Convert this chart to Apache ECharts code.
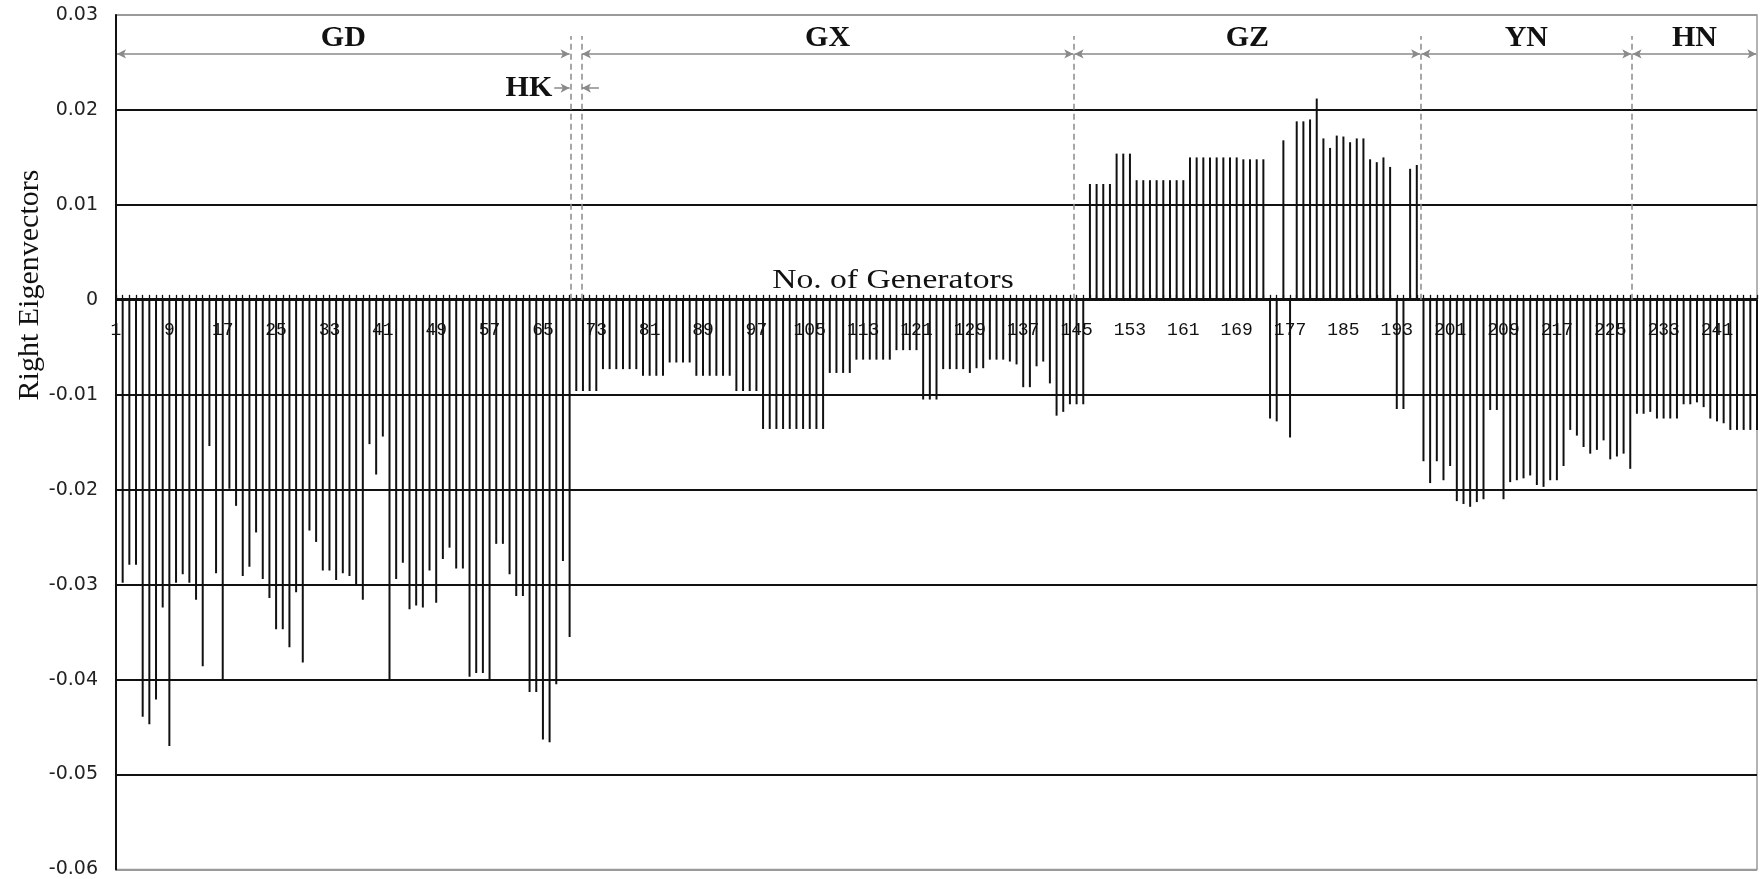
<!DOCTYPE html>
<html><head><meta charset="utf-8">
<script src="https://cdn.jsdelivr.net/npm/echarts@6/dist/echarts.min.js"></script>
<style>html,body{margin:0;padding:0;background:#fff}#c{width:1762px;height:879px}</style>
</head><body><div id="c"></div>
<script>
// Right eigenvector entries per region (generators numbered consecutively)
const gdValues = [-0.0297,-0.0298,-0.0279,-0.0279,-0.0439,-0.0447,-0.0421,-0.0324,-0.0470,-0.0298,
  -0.0289,-0.0298,-0.0316,-0.0386,-0.0154,-0.0288,-0.0400,-0.0199,-0.0217,-0.0291,
  -0.0281,-0.0245,-0.0294,-0.0314,-0.0347,-0.0347,-0.0366,-0.0308,-0.0382,-0.0243,
  -0.0255,-0.0285,-0.0285,-0.0295,-0.0288,-0.0291,-0.0300,-0.0316,-0.0152,-0.0184,
  -0.0144,-0.0400,-0.0294,-0.0277,-0.0326,-0.0322,-0.0324,-0.0285,-0.0319,-0.0273,
  -0.0261,-0.0283,-0.0283,-0.0397,-0.0393,-0.0393,-0.0400,-0.0257,-0.0257,-0.0289,
  -0.0312,-0.0312,-0.0413,-0.0413,-0.0463,-0.0466,-0.0405,-0.0275,-0.0355];
const hkValues = [-0.0096];
const gxValues = [-0.0096,-0.0096,-0.0096,-0.0073,-0.0073,-0.0073,-0.0073,-0.0073,-0.0073,-0.0080,
  -0.0080,-0.0080,-0.0080,-0.0066,-0.0066,-0.0066,-0.0066,-0.0080,-0.0080,-0.0080,
  -0.0080,-0.0080,-0.0080,-0.0096,-0.0096,-0.0096,-0.0096,-0.0136,-0.0136,-0.0136,
  -0.0136,-0.0136,-0.0136,-0.0136,-0.0136,-0.0136,-0.0136,-0.0077,-0.0077,-0.0077,
  -0.0077,-0.0063,-0.0063,-0.0063,-0.0063,-0.0063,-0.0063,-0.0053,-0.0053,-0.0053,
  -0.0053,-0.0105,-0.0105,-0.0105,-0.0073,-0.0073,-0.0073,-0.0073,-0.0077,-0.0072,
  -0.0072,-0.0063,-0.0063,-0.0063,-0.0065,-0.0068,-0.0092,-0.0092,-0.0070,-0.0065,
  -0.0088,-0.0122,-0.0118,-0.0110];
const gzValues = [-0.0110,-0.0110,0.0122,0.0122,0.0122,0.0122,0.0154,0.0154,0.0154,0.0126,
  0.0126,0.0126,0.0126,0.0126,0.0126,0.0126,0.0126,0.0150,0.0150,0.0150,
  0.0150,0.0150,0.0150,0.0150,0.0150,0.0148,0.0148,0.0148,0.0148,-0.0125,
  -0.0128,0.0168,-0.0145,0.0188,0.0188,0.0190,0.0212,0.0170,0.0160,0.0173,
  0.0172,0.0166,0.0170,0.0170,0.0148,0.0145,0.0150,0.0140,-0.0115,-0.0115,
  0.0138,0.0142];
const ynValues = [-0.0170,-0.0193,-0.0170,-0.0190,-0.0175,-0.0212,-0.0215,-0.0218,-0.0213,-0.0210,
  -0.0116,-0.0116,-0.0210,-0.0192,-0.0190,-0.0188,-0.0185,-0.0195,-0.0197,-0.0190,
  -0.0190,-0.0175,-0.0137,-0.0143,-0.0155,-0.0162,-0.0158,-0.0148,-0.0168,-0.0165,
  -0.0162,-0.0178];
const hnValues = [-0.0120,-0.0120,-0.0118,-0.0125,-0.0125,-0.0125,-0.0125,-0.0110,-0.0110,-0.0108,
  -0.0113,-0.0125,-0.0128,-0.0130,-0.0137,-0.0137,-0.0137,-0.0137,-0.0137];

const xTickLabels = [1,9,17,25,33,41,49,57,65,73,81,89,97,105,113,121,129,137,145,153,161,169,177,185,193,201,209,217,225,233,241];
const regionNames = ['GD','GX','GZ','YN','HN'];
const regionDividers = [69.1, 70.75, 144.6, 196.6, 228.25]; // dashed separators, in generator units
const regionSpans = [[1.15, 69.0], [70.85, 144.5], [144.7, 196.5], [196.7, 228.15], [228.35, 246.9]];

const values = [].concat(gdValues, hkValues, gxValues, gzValues, ynValues, hnValues);
const generatorNo = values.map((v, i) => i + 1);
const N = values.length;

const Y_MIN = -0.06, Y_MAX = 0.03;
const GRID = {left: 116, right: 5, top: 15, bottom: 8};
const plotH = 879 - GRID.top - GRID.bottom;
// move the generator axis up so it sits on the zero line
const zeroOffset = -plotH * (0 - Y_MIN) / (Y_MAX - Y_MIN);

const gray = '#8a8a8a';
const arrowY = 0.0259, dividerTop = 0.0278, hkY = 0.0223;
const serif = '"Liberation Serif","Times New Roman",serif';

const mlData = [];
regionDividers.forEach(b => mlData.push([
  {coord: [b, 0], symbol: 'none', lineStyle: {type: [6, 4], color: gray, width: 1.5}},
  {coord: [b, dividerTop], symbol: 'none'}]));
regionSpans.forEach((s, i) => mlData.push([
  {coord: [s[0], arrowY], symbol: 'arrow', symbolSize: [7, 9],
   lineStyle: {type: 'solid', color: gray, width: 1.5},
   label: {show: true, position: 'insideMiddleTop', distance: 1, formatter: regionNames[i],
           fontFamily: serif, fontSize: 30, fontWeight: 'bold', color: '#111'}},
  {coord: [s[1], arrowY], symbol: 'arrow', symbolSize: [7, 9]}]));
// HK pointers
mlData.push([
  {coord: [66.7, hkY], symbol: 'none', lineStyle: {type: 'solid', color: gray, width: 1.5},
   label: {show: true, position: 'start', distance: 2, formatter: 'HK',
           fontFamily: serif, fontSize: 30, fontWeight: 'bold', color: '#111'}},
  {coord: [69.0, hkY], symbol: 'arrow', symbolSize: [7, 9]}]);
mlData.push([
  {coord: [73.4, hkY], symbol: 'none', lineStyle: {type: 'solid', color: gray, width: 1.5}},
  {coord: [70.85, hkY], symbol: 'arrow', symbolSize: [7, 9]}]);

const chart = echarts.init(document.getElementById('c'), null, {renderer: 'canvas'});
chart.setOption({
  animation: false,
  backgroundColor: '#fff',
  grid: Object.assign({show: true, borderColor: '#9a9a9a', borderWidth: 1.5}, GRID),
  xAxis: {
    type: 'value', min: 1, max: N, position: 'bottom', offset: zeroOffset,
    axisLine: {onZero: false, lineStyle: {color: '#111', width: 2}},
    axisTick: {show: true, inside: true, length: 4, customValues: generatorNo, lineStyle: {color: '#111', width: 1.3}},
    axisLabel: {customValues: xTickLabels, margin: 22, fontFamily: '"Liberation Mono",monospace', fontSize: 18, color: '#111'},
    splitLine: {show: false}
  },
  yAxis: {
    type: 'value', min: Y_MIN, max: Y_MAX, interval: 0.01,
    axisLine: {show: true, onZero: false, lineStyle: {color: '#111', width: 2}},
    axisTick: {show: false},
    axisLabel: {margin: 18, fontFamily: '"DejaVu Sans",sans-serif', fontSize: 19, color: '#222'},
    splitLine: {show: true, lineStyle: {width: 2, color: ['#9a9a9a','#111','#111','#111','#111','#111','#111','#111','#111','#9a9a9a']}}
  },
  graphic: [
    {type: 'text', x: 893, y: 281, scaleX: 1.2, z: 10,
     style: {text: 'No. of Generators', fontFamily: serif, fontSize: 28, fill: '#111',
             align: 'center', verticalAlign: 'middle', textAlign: 'center', textVerticalAlign: 'middle'}},
    {type: 'text', x: 30, y: 285, rotation: Math.PI / 2, z: 10,
     style: {text: 'Right Eigenvectors', fontFamily: serif, fontSize: 30, fill: '#111',
             align: 'center', verticalAlign: 'middle', textAlign: 'center', textVerticalAlign: 'middle'}}
  ],
  series: [{
    type: 'bar', barWidth: 2, itemStyle: {color: '#111'},
    data: generatorNo.map((g, i) => [g, values[i]]),
    markLine: {silent: true, animation: false, symbol: 'none', label: {show: false}, data: mlData}
  }]
});
</script></body></html>
